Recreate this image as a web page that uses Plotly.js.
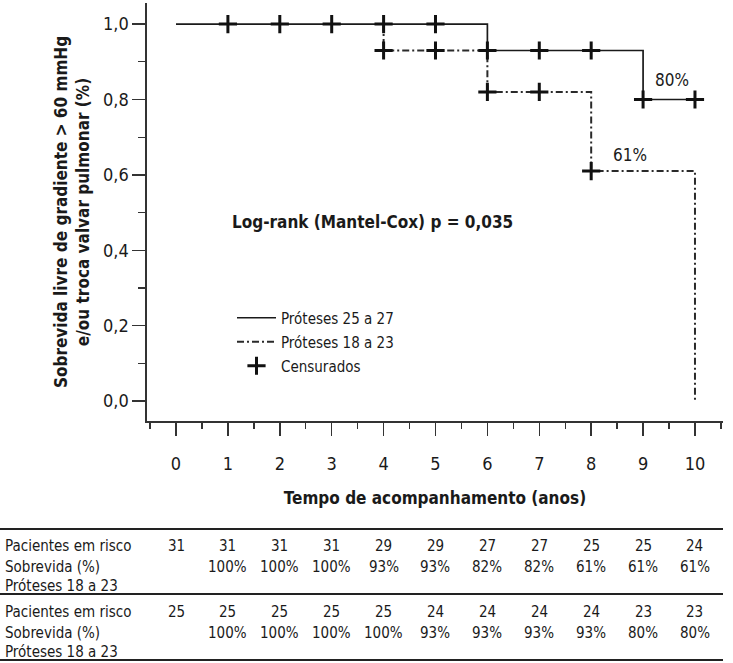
<!DOCTYPE html>
<html>
<head>
<meta charset="utf-8">
<script src="https://cdn.plot.ly/plotly-3.0.1.min.js"></script>
<style>
  html, body { margin: 0; padding: 0; background: #fff; }
  #chart { width: 733px; height: 663px; }
</style>
</head>
<body>
<div id="chart"></div>
<script>
// Kaplan-Meier steps: time (years) and survival for each prosthesis group
const timesLarge = [0, 6, 9, 10];
const survLarge = [1.0, 0.93, 0.80, 0.80];
const timesSmall = [4, 6, 8, 10, 10];
const survSmall = [0.93, 0.82, 0.61, 0.61, 0.0];
const startSmall = 1.0; // the small-prosthesis curve coincides with the other until year 4

// Censored observations
const censorLargeX = [1, 2, 3, 4, 5, 6, 7, 8, 9, 10];
const censorLargeY = [1.0, 1.0, 1.0, 1.0, 1.0, 0.93, 0.93, 0.93, 0.80, 0.80];
const censorSmallX = [4, 5, 6, 7, 8];
const censorSmallY = [0.93, 0.93, 0.82, 0.82, 0.61];

// Numbers-at-risk table
const tableYears = [0, 1, 2, 3, 4, 5, 6, 7, 8, 9, 10];
const riskA = [31, 31, 31, 31, 29, 29, 27, 27, 25, 25, 24];
const survA = [null, 100, 100, 100, 93, 93, 82, 82, 61, 61, 61];
const riskB = [25, 25, 25, 25, 25, 24, 24, 24, 24, 23, 23];
const survB = [null, 100, 100, 100, 100, 93, 93, 93, 93, 80, 80];
const rowLabels = ['Pacientes em risco', 'Sobrevida (%)', 'Próteses 18 a 23'];

const legendNames = ['Próteses 25 a 27', 'Próteses 18 a 23', 'Censurados'];
const yTicks = [0, 0.2, 0.4, 0.6, 0.8, 1.0];
const xTicks = [0, 1, 2, 3, 4, 5, 6, 7, 8, 9, 10];

const FONT = '"DejaVu Sans Condensed", "Liberation Sans", sans-serif';
const INK = '#1a1a1a';

const traces = [
  {
    x: timesLarge, y: survLarge, mode: 'lines', line: {shape: 'hv', color: INK, width: 1.7},
    name: legendNames[0], legend: 'legend'
  },
  {
    x: [timesSmall[0]].concat(timesSmall), y: [startSmall].concat(survSmall),
    mode: 'lines', line: {shape: 'hv', color: '#2a2a2a', width: 2, dash: '7px,3px,2px,3px'},
    name: legendNames[1], legend: 'legend2'
  },
  {
    x: censorLargeX.concat(censorSmallX), y: censorLargeY.concat(censorSmallY),
    mode: 'markers', name: legendNames[2], legend: 'legend3',
    marker: {symbol: 'cross-thin', size: 13, line: {color: '#111', width: 3}}
  }
];

// Pixel helpers for the plotting area (margins below)
const plotBottom = 421, plotH = 418, plotL = 147, plotW = 576;
const py = p => (plotBottom - p) / plotH;
const px = p => (p - plotL) / plotW;

// Table rows as annotations aligned to the year axis
const annotations = [];
const rowPix = [[546, 567, 586], [612, 633, 652]];
const blocks = [[riskA, survA], [riskB, survB]];
const tableFont = {family: FONT, size: 15, color: INK};
blocks.forEach((blk, b) => {
  rowLabels.forEach((lab, r) => {
    annotations.push({xref: 'paper', yref: 'paper', x: px(3), y: py(rowPix[b][r]),
      xanchor: 'left', yanchor: 'middle', text: lab, showarrow: false, font: tableFont});
  });
  tableYears.forEach((yr, i) => {
    annotations.push({xref: 'x', yref: 'paper', x: yr, y: py(rowPix[b][0]),
      xanchor: 'center', yanchor: 'middle', text: String(blk[0][i]), showarrow: false, font: tableFont});
    if (blk[1][i] !== null) {
      annotations.push({xref: 'x', yref: 'paper', x: yr, y: py(rowPix[b][1]),
        xanchor: 'center', yanchor: 'middle', text: blk[1][i] + '%', showarrow: false, font: tableFont});
    }
  });
});

annotations.push({xref: 'x', yref: 'y', x: 1.04, y: 0.475, xanchor: 'left', yanchor: 'middle',
  text: '<b>Log-rank (Mantel-Cox) p = 0,035</b>', showarrow: false,
  font: {family: FONT, size: 17, color: INK}});
annotations.push({xref: 'x', yref: 'y', x: 9.56, y: survLarge[survLarge.length - 1], yshift: 19,
  text: Math.round(survLarge[survLarge.length - 1] * 100) + '%', showarrow: false,
  font: {family: FONT, size: 17, color: INK}});
annotations.push({xref: 'x', yref: 'y', x: 8.75, y: survSmall[2], yshift: 16,
  text: Math.round(survSmall[2] * 100) + '%', showarrow: false,
  font: {family: FONT, size: 17, color: INK}});

const shapes = [529, 594, 660].map((p, i) => ({
  type: 'line', xref: 'paper', yref: 'paper', x0: px(0), x1: px(723), y0: py(p), y1: py(p),
  line: {color: '#222', width: i === 0 ? 2.2 : 2}
}));

// One legend box per entry so the rows can be spaced freely
const legendBox = yPix => ({
  x: px(232), y: py(yPix), xanchor: 'left', yanchor: 'middle', bgcolor: 'rgba(0,0,0,0)',
  font: {family: FONT, size: 15, color: INK}, itemwidth: 39
});

const layout = {
  width: 733, height: 663,
  margin: {l: 147, r: 10, t: 3, b: 242},
  paper_bgcolor: '#fff', plot_bgcolor: '#fff',
  separators: ',.',
  font: {family: FONT, color: INK},
  showlegend: true,
  legend: legendBox(318),
  legend2: legendBox(342),
  legend3: legendBox(366),
  xaxis: {
    range: [-0.559, 10.54], showgrid: false, zeroline: false,
    showline: true, linecolor: '#333', linewidth: 1.6,
    tickvals: xTicks, ticks: 'outside', ticklen: 13, tickwidth: 1.5, tickcolor: '#333',
    minor: {dtick: 0.5, tick0: 0.5, ticks: 'outside', ticklen: 6, tickwidth: 1.3, tickcolor: '#333'},
    tickfont: {family: FONT, size: 18, color: INK}, ticklabelstandoff: 13,
    title: {text: '<b>Tempo de acompanhamento (anos)</b>', font: {family: FONT, size: 17, color: INK}, standoff: 19}
  },
  yaxis: {
    range: [-0.053, 1.056], showgrid: false, zeroline: false,
    showline: true, linecolor: '#333', linewidth: 1.6,
    tickvals: yTicks, tickformat: '.1f', ticks: 'outside', ticklen: 13, tickwidth: 1.5, tickcolor: '#333',
    minor: {dtick: 0.1, tick0: 0, ticks: 'outside', ticklen: 7, tickwidth: 1.3, tickcolor: '#333'},
    tickfont: {family: FONT, size: 18, color: INK},
    title: {text: '<b>Sobrevida livre de gradiente > 60 mmHg<br>e/ou troca valvar pulmonar (%)</b>',
      font: {family: FONT, size: 17, color: INK}, standoff: 9}
  },
  annotations: annotations,
  shapes: shapes
};

Plotly.newPlot('chart', traces, layout, {displayModeBar: false, staticPlot: true});
</script>
</body>
</html>
